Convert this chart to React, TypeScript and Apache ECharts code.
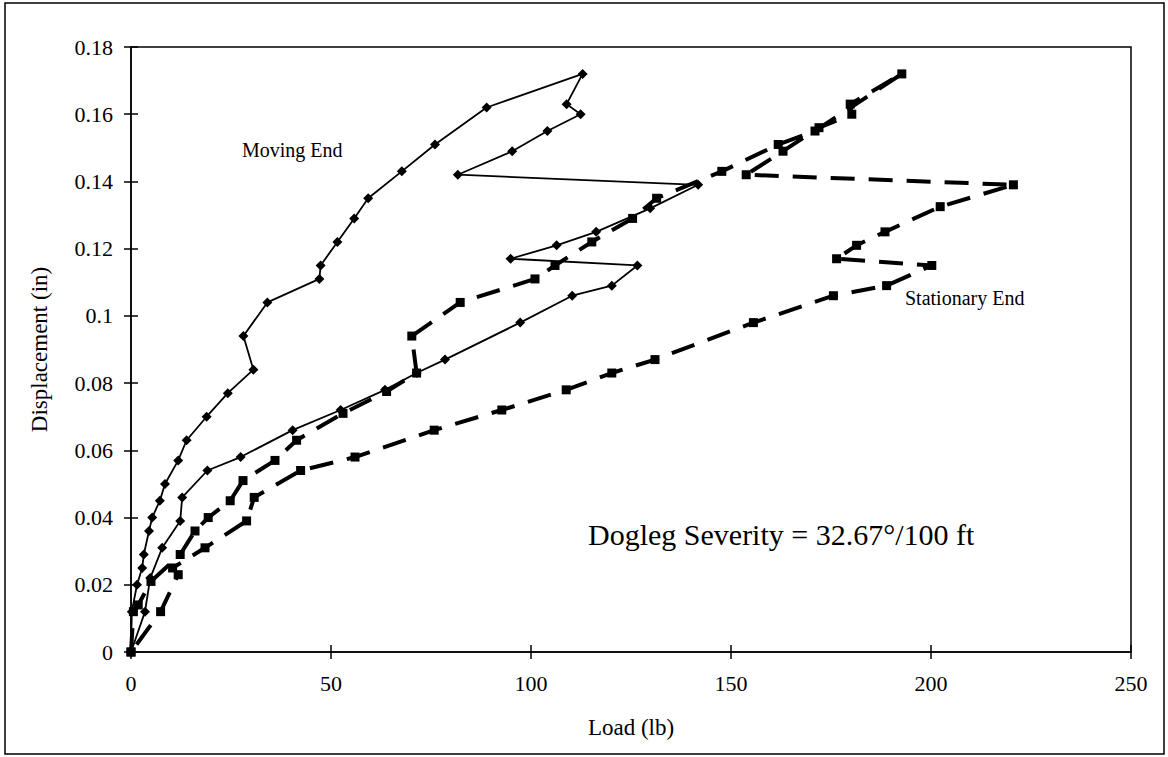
import React, { useEffect, useRef } from "react";
import * as echarts from "echarts";

// Load (lb) and displacement (in) readings, in recording order.
const movingLoad = [
  0, 0.2, 1.5, 2.8, 3.2, 4.5, 5.3, 7.2, 8.5, 11.8, 13.9, 18.9, 24.2, 30.6, 28.1, 34.1,
  47.1, 47.4, 51.6, 55.8, 59.3, 67.7, 76.0, 88.9, 112.9, 108.9, 112.4, 104.1, 95.3, 81.7,
  141.8, 129.8, 116.3, 106.4, 94.9, 126.6, 120.2, 110.3, 97.3, 78.5, 71.4, 63.5, 52.4,
  40.4, 27.4, 19.1, 12.8, 12.3, 7.8, 4.8, 3.5, 0,
];
const movingDisp = [
  0, 0.012, 0.02, 0.025, 0.029, 0.036, 0.04, 0.045, 0.05, 0.057, 0.063, 0.07, 0.077, 0.084,
  0.094, 0.104, 0.111, 0.115, 0.122, 0.129, 0.135, 0.143, 0.151, 0.162, 0.172, 0.163, 0.16,
  0.155, 0.149, 0.142, 0.139, 0.132, 0.125, 0.121, 0.117, 0.115, 0.109, 0.106, 0.098, 0.087,
  0.083, 0.078, 0.072, 0.066, 0.058, 0.054, 0.046, 0.039, 0.031, 0.022, 0.012, 0,
];

const stationaryLoad = [
  0, 0.6, 1.8, 5.0, 12.3, 16.0, 19.3, 24.8, 28.0, 36.0, 41.4, 53.0, 63.9, 71.4, 70.2, 82.3,
  101.0, 106.0, 115.2, 125.4, 131.4, 147.7, 161.8, 171.0, 192.7, 179.8, 180.2, 172.0, 163.0,
  153.8, 220.6, 202.3, 188.5, 181.4, 176.4, 200.2, 188.9, 175.6, 155.6, 131.0, 120.2, 108.8,
  92.7, 75.8, 56.0, 42.4, 30.8, 28.9, 18.5, 10.4, 11.8, 7.4, 0,
];
const stationaryDisp = [
  0, 0.012, 0.014, 0.021, 0.029, 0.036, 0.04, 0.045, 0.051, 0.057, 0.063, 0.071, 0.0775,
  0.083, 0.094, 0.104, 0.111, 0.115, 0.122, 0.129, 0.135, 0.143, 0.151, 0.155, 0.172, 0.163,
  0.16, 0.156, 0.149, 0.142, 0.139, 0.1325, 0.125, 0.121, 0.117, 0.115, 0.109, 0.106, 0.098,
  0.087, 0.083, 0.078, 0.072, 0.066, 0.058, 0.054, 0.046, 0.039, 0.031, 0.025, 0.023, 0.012, 0,
];

const xTicks = { min: 0, max: 250, interval: 50 };
const yTicks = { min: 0, max: 0.18, interval: 0.02 };

const FONT = '"Liberation Serif", "DejaVu Serif", serif';

const pairs = (xs: number[], ys: number[]) => xs.map((x, i) => [x, ys[i]]);

export default function App() {
  const ref = useRef<HTMLDivElement>(null);

  useEffect(() => {
    if (!ref.current) return;
    const chart = echarts.init(ref.current, undefined, { renderer: "svg" });

    const axisText = { color: "#000", fontFamily: FONT, fontSize: 22 };
    // A second, label-less axis adds the inward half of each crossing tick mark.
    const tickOnly = {
      axisLine: { show: false },
      axisLabel: { show: false },
      splitLine: { show: false },
      axisTick: { show: true, inside: true, length: 7, lineStyle: { color: "#000", width: 1.5 } },
    };

    chart.setOption({
      animation: false,
      backgroundColor: "#fff",
      grid: {
        left: 131,
        top: 47,
        width: 1000,
        height: 605,
        show: true,
        borderColor: "#000",
        borderWidth: 1.5,
        backgroundColor: "transparent",
      },
      xAxis: [
        {
          type: "value",
          ...xTicks,
          position: "bottom",
          name: "Load (lb)",
          nameLocation: "middle",
          nameGap: 64,
          nameTextStyle: { ...axisText, fontSize: 23 },
          axisLine: { show: true, lineStyle: { color: "#000", width: 1.5 } },
          axisTick: { show: true, inside: false, length: 7, lineStyle: { color: "#000", width: 1.5 } },
          axisLabel: { ...axisText, margin: 20 },
          splitLine: { show: false },
        },
        { type: "value", ...xTicks, position: "bottom", ...tickOnly },
      ],
      yAxis: [
        {
          type: "value",
          ...yTicks,
          position: "left",
          name: "Displacement (in)",
          nameLocation: "middle",
          nameGap: 80,
          nameTextStyle: { ...axisText, fontSize: 23 },
          axisLine: { show: true, lineStyle: { color: "#000", width: 1.5 } },
          axisTick: { show: true, inside: false, length: 7, lineStyle: { color: "#000", width: 1.5 } },
          axisLabel: {
            ...axisText,
            margin: 18,
            formatter: (v: number) => String(parseFloat(v.toFixed(2))),
          },
          splitLine: { show: false },
        },
        { type: "value", ...yTicks, position: "left", ...tickOnly },
      ],
      graphic: [
        {
          type: "rect",
          silent: true,
          shape: { x: 5, y: 3, width: 1159, height: 751 },
          style: { fill: "none", stroke: "#000", lineWidth: 1.5 },
          z: -10,
        },
        {
          type: "text",
          x: 242,
          y: 150,
          style: { text: "Moving End", font: `20px ${FONT}`, fill: "#000", align: "left", verticalAlign: "middle" },
        },
        {
          type: "text",
          x: 905,
          y: 298,
          style: { text: "Stationary End", font: `20px ${FONT}`, fill: "#000", align: "left", verticalAlign: "middle" },
        },
        {
          type: "text",
          x: 588,
          y: 534,
          style: {
            text: "Dogleg Severity = 32.67°/100 ft",
            font: `30px ${FONT}`,
            fill: "#000",
            align: "left",
            verticalAlign: "middle",
          },
        },
      ],
      series: [
        {
          name: "Moving End",
          type: "line",
          xAxisIndex: 0,
          yAxisIndex: 0,
          data: pairs(movingLoad, movingDisp),
          symbol: "diamond",
          symbolSize: [10, 10],
          showAllSymbol: true,
          lineStyle: { color: "#000", width: 1.8 },
          itemStyle: { color: "#000" },
          z: 3,
        },
        {
          name: "Stationary End",
          type: "line",
          xAxisIndex: 0,
          yAxisIndex: 0,
          data: pairs(stationaryLoad, stationaryDisp),
          symbol: "rect",
          symbolSize: 9,
          showAllSymbol: true,
          lineStyle: { color: "#000", width: 4, type: [24, 14] },
          itemStyle: { color: "#000" },
          z: 2,
        },
      ],
    });

    return () => chart.dispose();
  }, []);

  return (
    <div
      ref={ref}
      style={{ position: "absolute", left: 0, top: 0, width: 1168, height: 757, background: "#fff" }}
    />
  );
}
